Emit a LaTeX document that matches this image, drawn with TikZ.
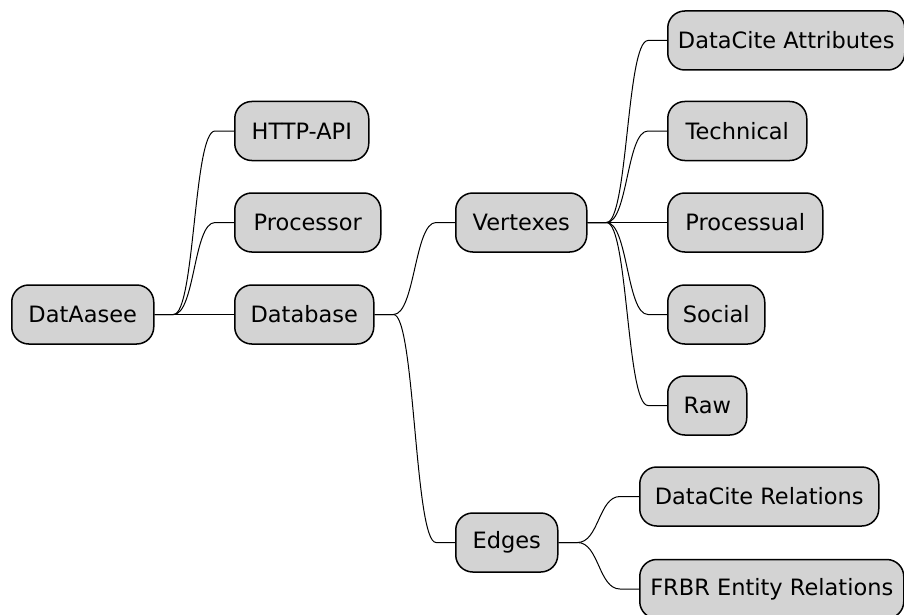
\documentclass[tikz,border=0pt]{standalone}
\usepackage{fontspec}
\setmainfont{DejaVu Sans}
\usetikzlibrary{calc}
\begin{document}
\begin{tikzpicture}[x=1pt,y=-1pt,
  mmnode/.style={draw=black, line width=1.5pt, fill=mmgray, rounded corners=17pt,
    minimum height=59pt, inner xsep=4pt, inner ysep=0pt, anchor=west,
    font=\fontsize{22.5}{27}\selectfont},
  mmlink/.style={draw=black, line width=1pt}]
\definecolor{mmgray}{HTML}{D3D3D3}
\useasboundingbox (0,0) rectangle (904,615);
\node[mmnode, minimum width=142pt] (root) at (11,314.5) {DatAasee};
\node[mmnode, minimum width=134pt] (http) at (234,131) {HTTP-API};
\node[mmnode, minimum width=146pt] (proc) at (234,222.5) {Processor};
\node[mmnode, minimum width=139pt] (db) at (234,314.5) {Database};
\node[mmnode, minimum width=131pt] (vert) at (455,222.5) {Vertexes};
\node[mmnode, minimum width=102pt] (edges) at (455,542.5) {Edges};
\node[mmnode, minimum width=237pt] (dca) at (667,40.5) {DataCite Attributes};
\node[mmnode, minimum width=139pt] (tech) at (667,131) {Technical};
\node[mmnode, minimum width=155pt] (procl) at (667,222.5) {Processual};
\node[mmnode, minimum width=97pt] (soc) at (667,314.5) {Social};
\node[mmnode, minimum width=79pt] (raw) at (667,405.5) {Raw};
\node[mmnode, minimum width=239pt] (dcr) at (639,496.5) {DataCite Relations};
\node[mmnode, minimum width=264pt] (frbr) at (639,589) {FRBR Entity Relations};
\foreach \p/\c in {root/http, root/proc, root/db, db/vert, db/edges,
  vert/dca, vert/tech, vert/procl, vert/soc, vert/raw, edges/dcr, edges/frbr}{
  \draw[mmlink] (\p.east) -- ++(19,0) .. controls +(21.5,0) and +(-21.5,0) .. ($(\c.west)+(-19,0)$) -- (\c.west);
}
\end{tikzpicture}
\end{document}
